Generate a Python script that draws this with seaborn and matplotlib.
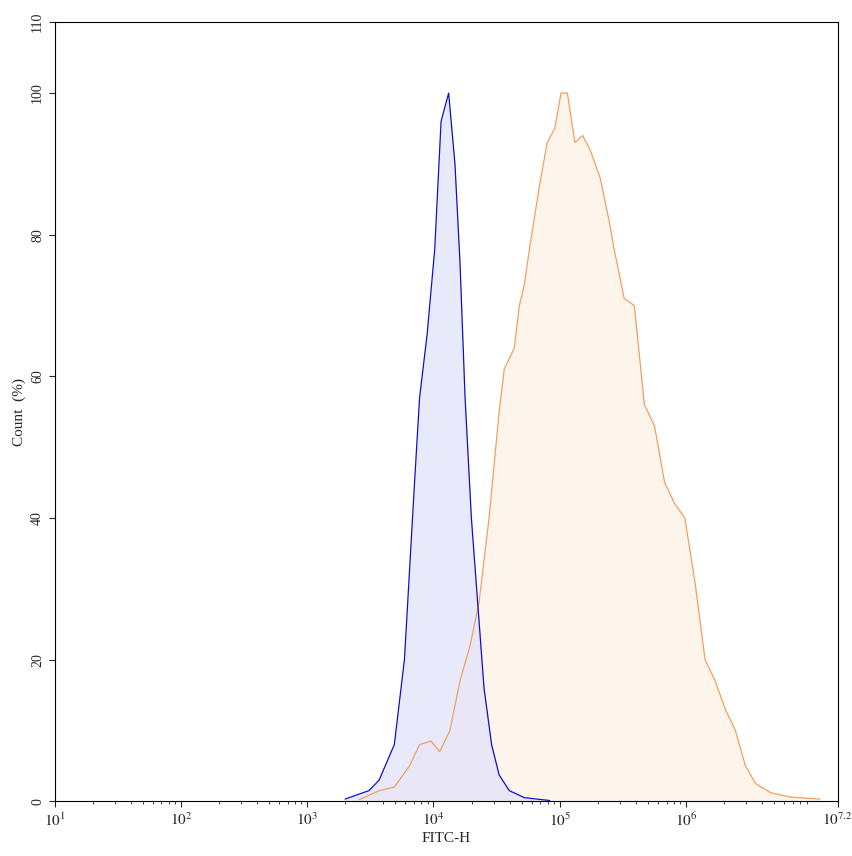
import numpy as np
import pandas as pd
import matplotlib
matplotlib.use("Agg")
import matplotlib.pyplot as plt
import seaborn as sns

sns.set_style("white")
plt.rcParams['font.family'] = ['Liberation Serif', 'DejaVu Serif']
plt.rcParams['mathtext.fontset'] = 'stix'

blue_logx = [3.30, 3.49, 3.57, 3.69, 3.77, 3.85, 3.89, 3.95, 4.01, 4.06, 4.12, 4.17, 4.21, 4.25, 4.30, 4.35, 4.40, 4.46, 4.52, 4.60, 4.72, 4.92]
blue_y = [0.3, 1.5, 3, 8, 20, 45, 57, 66, 78, 96, 100, 90, 76, 57, 40, 28, 16, 8, 3.7, 1.5, 0.5, 0.1]

orange_logx = [3.41, 3.57, 3.69, 3.81, 3.89, 3.98, 4.05, 4.13, 4.21, 4.29, 4.36, 4.44, 4.52, 4.56, 4.64, 4.68, 4.72, 4.76, 4.84, 4.90, 4.96, 5.01, 5.06, 5.12, 5.18, 5.24, 5.32, 5.39, 5.43, 5.51, 5.59, 5.67, 5.75, 5.83, 5.91, 5.99, 6.07, 6.15, 6.23, 6.31, 6.39, 6.47, 6.55, 6.67, 6.82, 7.06]
orange_y = [0.2, 1.5, 2, 5, 8, 8.5, 7, 10, 17, 22, 28, 40, 55, 61, 64, 70, 73, 78, 87, 93, 95, 100, 100, 93, 94, 92, 88, 82, 78, 71, 70, 56, 53, 45, 42, 40, 31, 20, 17, 13, 10, 5, 2.5, 1.2, 0.6, 0.3]

fig, ax = plt.subplots(figsize=(8.53, 8.56), dpi=100)
fig.subplots_adjust(left=0.064, right=0.982, top=0.974, bottom=0.064)

bx = 10 ** np.array(blue_logx)
ox = 10 ** np.array(orange_logx)
ax.fill_between(ox, orange_y, color='#fdf3e8', alpha=0.8, lw=0)
ax.fill_between(bx, blue_y, color='#e2e2fb', alpha=0.75, lw=0)
sns.lineplot(x=ox, y=orange_y, ax=ax, color='#f0a060', lw=0.9)
sns.lineplot(x=bx, y=blue_y, ax=ax, color='#1010c8', lw=0.9)

ax.set_xscale('log')
ax.set_xlim(10, 10 ** 7.2)
ax.set_ylim(0, 110)
xt = [10, 100, 1e3, 1e4, 1e5, 1e6, 10 ** 7.2]
ax.set_xticks(xt)
ax.set_xticklabels([r'$10^{1}$', r'$10^{2}$', r'$10^{3}$', r'$10^{4}$', r'$10^{5}$', r'$10^{6}$', r'$10^{7.2}$'], fontsize=11)
ax.set_yticks([0, 20, 40, 60, 80, 100, 110])
ax.set_yticklabels(['0', '20', '40', '60', '80', '100', '110'], rotation=90, va='center', fontsize=10)
ax.tick_params(axis='both', which='major', direction='out', length=4, bottom=True, left=True)
ax.tick_params(axis='x', which='minor', direction='out', length=2, bottom=True)
for s in ax.spines.values():
    s.set_color('black'); s.set_linewidth(0.8)
ax.set_xlabel('FITC-H', fontsize=11, labelpad=2)
ax.set_ylabel('Count  (%)', fontsize=11)
fig.savefig('out.png', dpi=100)
